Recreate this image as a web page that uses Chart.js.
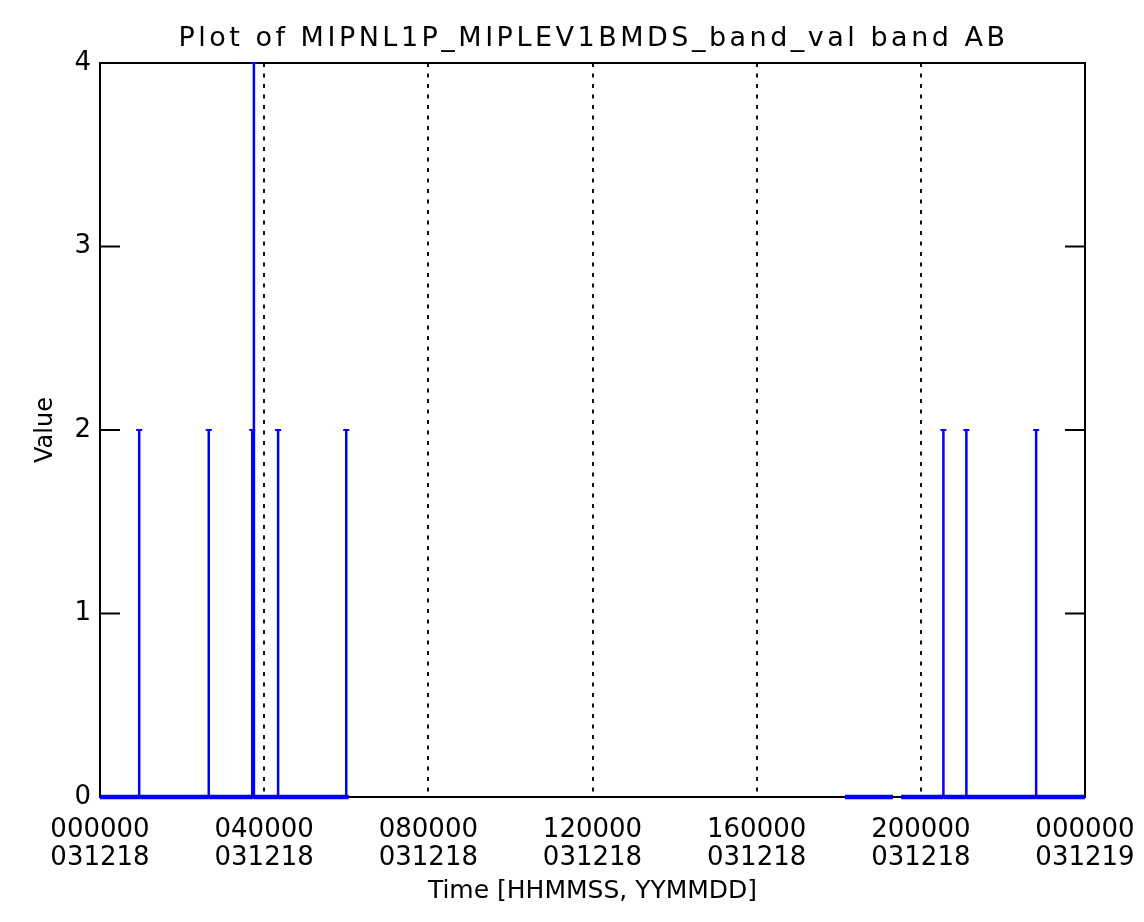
<!DOCTYPE html>
<html>
<head>
<meta charset="utf-8">
<title>Plot of MIPNL1P_MIPLEV1BMDS_band_val band AB</title>
<script src="https://cdn.jsdelivr.net/npm/chart.js@4.4.1/dist/chart.umd.min.js"></script>
<style>
  html, body { margin: 0; padding: 0; background: #fff; }
</style>
</head>
<body>
<canvas id="plot" width="1144" height="922"></canvas>
<script>
// x is hours since 000000 031218
const xTickHours = [0, 4, 8, 12, 16, 20, 24];
const xTickTimes = ['000000', '040000', '080000', '120000', '160000', '200000', '000000'];
const xTickDates = ['031218', '031218', '031218', '031218', '031218', '031218', '031219'];
const yTicks = [0, 1, 2, 3, 4];

// stretches with data (value 0 between spikes)
const runStarts = [0.00, 18.15, 19.52];
const runEnds   = [6.06, 19.32, 24.00];

// spikes
const spikeHours  = [0.955, 2.65, 3.71, 3.75, 4.34, 6.00, 20.55, 21.11, 22.81];
const spikeValues = [2, 2, 2, 4, 2, 2, 2, 2, 2];

// build the trace: flat runs with vertical spikes, a null to break between runs
const trace = [];
runStarts.forEach((start, i) => {
  const end = runEnds[i];
  trace.push({ x: start, y: 0 });
  spikeHours.forEach((h, j) => {
    if (h > start && h < end) {
      trace.push({ x: h, y: 0 }, { x: h, y: spikeValues[j] }, { x: h, y: 0 });
    }
  });
  trace.push({ x: end, y: 0 });
  trace.push({ x: end, y: null });
});

const FONT = "'DejaVu Sans', sans-serif";
Chart.defaults.color = '#000';
Chart.defaults.font.family = FONT;

// box around the plot + inward y ticks on both sides
const frame = {
  id: 'frame',
  beforeDatasetsDraw(chart) {
    const { ctx, chartArea: a, scales: { y } } = chart;
    ctx.save();
    ctx.strokeStyle = '#000';
    ctx.lineWidth = 2;
    ctx.strokeRect(a.left, a.top, a.right - a.left, a.bottom - a.top);
    ctx.beginPath();
    yTicks.forEach(v => {
      const py = y.getPixelForValue(v);
      ctx.moveTo(a.left, py);  ctx.lineTo(a.left + 20, py);
      ctx.moveTo(a.right, py); ctx.lineTo(a.right - 20, py);
    });
    ctx.stroke();
    ctx.restore();
  }
};

// the title font is wide, spread the letters a bit and centre it over the plot
const wideTitle = {
  id: 'wideTitle',
  beforeDraw(chart) {
    const t = chart.titleBlock;
    if (t && !t._wide) {
      const draw = t.draw;
      t.draw = function () {
        const ctx = chart.ctx;
        ctx.save();
        ctx.letterSpacing = '3.5px';
        ctx.translate(51, 0);
        draw.apply(this, arguments);
        ctx.restore();
      };
      t._wide = true;
    }
  }
};

new Chart(document.getElementById('plot'), {
  type: 'line',
  data: {
    datasets: [{
      data: trace,
      borderColor: '#0000ff',
      borderWidth: 2.5,
      spanGaps: false,
      tension: 0,
      clip: 4,
      segment: {
        borderWidth: c => (c.p0.parsed.y === 0 && c.p1.parsed.y === 0) ? 4.5 : 2.5
      },
      pointStyle: 'line',
      pointRadius: c => (c.raw && c.raw.y > 0) ? 3 : 0,
      pointBorderColor: '#0000ff',
      pointBorderWidth: 2
    }]
  },
  options: {
    responsive: false,
    animation: false,
    layout: { padding: { top: 0, left: 0, right: 59, bottom: 0 } },
    plugins: {
      legend: { display: false },
      tooltip: { enabled: false },
      title: {
        display: true,
        text: 'Plot of MIPNL1P_MIPLEV1BMDS_band_val band AB',
        color: '#000',
        font: { family: FONT, size: 27, weight: 'normal' },
        padding: { top: 23, bottom: 7.6 }
      }
    },
    scales: {
      x: {
        type: 'linear',
        min: 0,
        max: 24,
        afterBuildTicks: s => { s.ticks = xTickHours.map(v => ({ value: v })); },
        afterFit: s => { s.height = 125; s.paddingLeft = 0; s.paddingRight = 0; },
        grid: {
          drawTicks: false,
          lineWidth: 2,
          color: c => (c.tick && c.tick.value > 0 && c.tick.value < 24) ? '#111' : 'rgba(0,0,0,0)'
        },
        border: { display: false, dash: [4, 6.5] },
        ticks: {
          autoSkip: false,
          maxRotation: 0,
          padding: 20,
          color: '#000',
          font: { family: FONT, size: 26, lineHeight: 1.05 },
          callback: (v, i) => [xTickTimes[i], xTickDates[i]]
        },
        title: {
          display: true,
          text: 'Time [HHMMSS, YYMMDD]',
          color: '#000',
          font: { family: FONT, size: 25 },
          padding: { top: 0, bottom: 16 }
        }
      },
      y: {
        min: 0,
        max: 4,
        afterBuildTicks: s => { s.ticks = yTicks.map(v => ({ value: v })); },
        afterFit: s => { s.width = 100; },
        grid: { display: false, drawTicks: false },
        border: { display: false },
        ticks: {
          padding: 9,
          color: '#000',
          font: { family: FONT, size: 26 }
        },
        title: {
          display: true,
          text: 'Value',
          color: '#000',
          font: { family: FONT, size: 24 },
          padding: { top: 31, bottom: 0 }
        }
      }
    }
  },
  plugins: [frame, wideTitle]
});
</script>
</body>
</html>
